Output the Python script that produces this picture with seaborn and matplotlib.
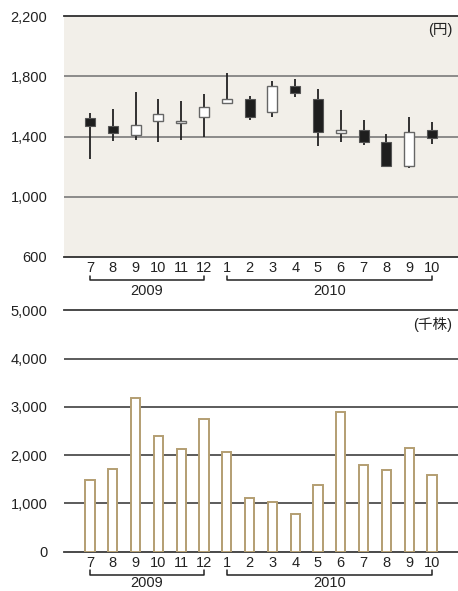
import matplotlib
matplotlib.use("Agg")
import matplotlib.pyplot as plt
import matplotlib.transforms as mtransforms
import seaborn as sns
import pandas as pd
import numpy as np

# Monthly share price (yen) and trading volume (thousand shares), Jul 2009 - Oct 2010
periods = ["2009-07", "2009-08", "2009-09", "2009-10", "2009-11", "2009-12",
           "2010-01", "2010-02", "2010-03", "2010-04", "2010-05", "2010-06",
           "2010-07", "2010-08", "2010-09", "2010-10"]
month_labels = ["7", "8", "9", "10", "11", "12",
                "1", "2", "3", "4", "5", "6", "7", "8", "9", "10"]
price_open = [1520, 1467, 1410, 1500, 1487, 1532, 1623, 1647, 1560, 1733,
              1647, 1423, 1443, 1361, 1204, 1443]
price_high = [1556, 1583, 1696, 1650, 1634, 1685, 1822, 1667, 1769, 1783,
              1716, 1576, 1510, 1417, 1527, 1498]
price_low = [1250, 1367, 1377, 1361, 1377, 1399, 1616, 1507, 1527, 1665,
             1334, 1361, 1341, 1197, 1188, 1352]
price_close = [1467, 1420, 1478, 1552, 1505, 1594, 1647, 1532, 1733, 1691,
               1427, 1443, 1365, 1206, 1427, 1392]
volume = [1483, 1717, 3174, 2400, 2119, 2746, 2063, 1117, 1035, 774,
          1386, 2890, 1794, 1697, 2146, 1593]
year_groups = [("2009", 0, 5), ("2010", 6, 15)]

price_ticks = [600, 1000, 1400, 1800, 2200]
volume_ticks = [0, 1000, 2000, 3000, 4000, 5000]

sns.set_theme(style="white")
plt.rcParams["font.family"] = ["Liberation Sans", "Noto Sans CJK JP", "DejaVu Sans"]
plt.rcParams["font.size"] = 10.5

W, H = 458, 591
fig = plt.figure(figsize=(W / 100, H / 100), dpi=100)
fig.patch.set_facecolor("white")

left = 64 / W
ax_price = fig.add_axes([left, 1 - 257 / H, 1 - left, (257 - 16) / H])
ax_vol = fig.add_axes([left, 1 - 551.7 / H, 1 - left, (551.7 - 310.2) / H])

df = pd.DataFrame({"period": periods, "open": price_open, "high": price_high,
                   "low": price_low, "close": price_close, "volume": volume})
x = np.arange(len(periods))
xlim = (-1.14, len(periods) - 1 + 1.14)


def style_axis(ax, ticks, grid_color, edge_color):
    ax.set_xlim(*xlim)
    ax.set_ylim(ticks[0], ticks[-1])
    ax.set_yticks(ticks)
    ax.set_yticklabels([f"{t:,}" for t in ticks], fontsize=10.5, color="#222222")
    ax.set_xticks(x)
    ax.set_xticklabels(month_labels, fontsize=10.5, color="#222222")
    ax.tick_params(axis="both", length=0)
    ax.tick_params(axis="y", pad=12)
    ax.tick_params(axis="x", pad=3)
    ax.set_xlabel("")
    ax.set_ylabel("")
    for side in ("left", "right"):
        ax.spines[side].set_visible(False)
    for side in ("top", "bottom"):
        ax.spines[side].set_color(edge_color)
        ax.spines[side].set_linewidth(1.3)
    for t in ticks[1:-1]:
        ax.axhline(t, color=grid_color, lw=1.2, zorder=1)


def year_brackets(ax, axes_height_px, text_offset_px):
    trans = mtransforms.blended_transform_factory(ax.transData, ax.transAxes)
    y_line = -23 / axes_height_px
    y_tip = -18.5 / axes_height_px
    y_text = -text_offset_px / axes_height_px
    for label, i0, i1 in year_groups:
        ax.plot([i0, i0, i1, i1], [y_tip, y_line, y_line, y_tip], color="#222222",
                lw=1.1, transform=trans, clip_on=False)
        ax.text((i0 + i1) / 2, y_text, label, transform=trans, ha="center",
                va="center", fontsize=10.5, color="#222222")


# Candlestick chart
ax_price.set_facecolor("#F2EFE9")
style_axis(ax_price, price_ticks, "#7a7a7a", "#2e2e2e")
ax_price.vlines(x, df["low"], df["high"], color="#222222", lw=1.3, zorder=2)
up = df["close"] >= df["open"]
body_bottom = np.minimum(df["open"], df["close"])
body_height = np.abs(df["close"] - df["open"])
ax_price.bar(x[up], body_height[up], bottom=body_bottom[up], width=0.44,
             color="white", edgecolor="#666666", lw=1.0, zorder=3)
ax_price.bar(x[~up], body_height[~up], bottom=body_bottom[~up], width=0.44,
             color="#1e1e1e", edgecolor="#555555", lw=0.8, zorder=3)
ax_price.text(0.985, 0.942, "(円)", transform=ax_price.transAxes, ha="right",
              va="center", fontsize=10.5, color="#222222")
year_brackets(ax_price, 241, 34)

# Trading volume bars
sns.barplot(data=df, x="period", y="volume", ax=ax_vol, width=0.4,
            color="white", edgecolor="#B39E72", linewidth=1.4, saturation=1,
            zorder=3)
style_axis(ax_vol, volume_ticks, "#3f3f3f", "#3a3a3a")
ax_vol.text(0.985, 0.942, "(千株)", transform=ax_vol.transAxes, ha="right",
            va="center", fontsize=10.5, color="#222222")
year_brackets(ax_vol, 241.5, 31)

fig.savefig("out.png", dpi=100, facecolor="white")
